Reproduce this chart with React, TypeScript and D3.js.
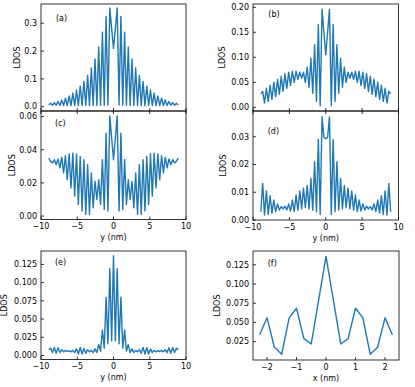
import React from "react";
import * as d3 from "d3";

// ---------- data ----------
// y-direction LDOS profiles, sampled symmetrically about y = 0
const ySpacing = 0.255; // nm between samples
const ldosA = [0.006, 0.012, 0.005, 0.015, 0.005, 0.019, 0.004, 0.024, 0.004, 0.031, 0.004, 0.039, 0.004, 0.049, 0.004, 0.06, 0.004, 0.074, 0.004, 0.091, 0.004, 0.112, 0.004, 0.139, 0.004, 0.172, 0.004, 0.215, 0.005, 0.268, 0.005, 0.325, 0.006, 0.355, 0.28,
  0.21,
  0.28, 0.355, 0.006, 0.325, 0.005, 0.268, 0.005, 0.215, 0.004, 0.172, 0.004, 0.139, 0.004, 0.112, 0.004, 0.091, 0.004, 0.074, 0.004, 0.06, 0.004, 0.049, 0.004, 0.039, 0.004, 0.031, 0.004, 0.024, 0.004, 0.019, 0.005, 0.015, 0.005, 0.012, 0.006];
const ldosB = [0.027, 0.032, 0.009, 0.038, 0.012, 0.044, 0.016, 0.05, 0.021, 0.056, 0.026, 0.062, 0.032, 0.067, 0.038, 0.07, 0.044, 0.072, 0.05, 0.072, 0.056, 0.07, 0.058, 0.07, 0.05, 0.08, 0.04, 0.098, 0.028, 0.125, 0.012, 0.165, 0.003, 0.196, 0.15,
  0.105,
  0.15, 0.196, 0.003, 0.165, 0.012, 0.125, 0.028, 0.098, 0.04, 0.08, 0.05, 0.07, 0.058, 0.07, 0.056, 0.072, 0.05, 0.072, 0.044, 0.07, 0.038, 0.067, 0.032, 0.062, 0.026, 0.056, 0.021, 0.05, 0.016, 0.044, 0.012, 0.038, 0.009, 0.032, 0.027];
const ldosC = [0.035, 0.033, 0.032, 0.034, 0.031, 0.0345, 0.029, 0.0355, 0.026, 0.0365, 0.022, 0.0375, 0.017, 0.038, 0.012, 0.0375, 0.007, 0.036, 0.003, 0.034, 0.001, 0.031, 0.001, 0.026, 0.005, 0.021, 0.01, 0.022, 0.007, 0.034, 0.004, 0.05, 0.003, 0.0604, 0.047,
  0.034,
  0.047, 0.0604, 0.003, 0.05, 0.004, 0.034, 0.007, 0.022, 0.01, 0.021, 0.005, 0.026, 0.001, 0.031, 0.001, 0.034, 0.003, 0.036, 0.007, 0.0375, 0.012, 0.038, 0.017, 0.0375, 0.022, 0.0365, 0.026, 0.0355, 0.029, 0.0345, 0.031, 0.034, 0.032, 0.033, 0.035];
const ldosD = [0.003, 0.0132, 0.0018, 0.0105, 0.002, 0.0088, 0.0025, 0.0072, 0.003, 0.0058, 0.0036, 0.0048, 0.004, 0.005, 0.0036, 0.0058, 0.0032, 0.0072, 0.003, 0.009, 0.0035, 0.0105, 0.004, 0.0115, 0.0045, 0.0125, 0.004, 0.015, 0.0035, 0.021, 0.003, 0.029, 0.002, 0.0372, 0.0298,
  0.0293,
  0.0298, 0.0372, 0.002, 0.029, 0.003, 0.021, 0.0035, 0.015, 0.004, 0.0125, 0.0045, 0.0115, 0.004, 0.0105, 0.0035, 0.009, 0.003, 0.0072, 0.0032, 0.0058, 0.0036, 0.005, 0.004, 0.0048, 0.0036, 0.0058, 0.003, 0.0072, 0.0025, 0.0088, 0.002, 0.0105, 0.0018, 0.0132, 0.003];
const ldosE = [0.008, 0.01, 0.004, 0.011, 0.003, 0.0105, 0.004, 0.008, 0.005, 0.007, 0.0055, 0.0065, 0.005, 0.007, 0.004, 0.009, 0.002, 0.011, 0.002, 0.01, 0.003, 0.008, 0.005, 0.007, 0.004, 0.009, 0.004, 0.015, 0.006, 0.035, 0.01, 0.08, 0.016, 0.119, 0.02,
  0.137,
  0.02, 0.119, 0.016, 0.08, 0.01, 0.035, 0.006, 0.015, 0.004, 0.009, 0.004, 0.007, 0.005, 0.008, 0.003, 0.011, 0.002, 0.011, 0.002, 0.009, 0.004, 0.007, 0.005, 0.0065, 0.0055, 0.007, 0.005, 0.008, 0.004, 0.0105, 0.003, 0.011, 0.004, 0.01, 0.008];
// x-direction profile
const xSpacing = 0.25;
const ldosF = [0.034, 0.056, 0.0177, 0.0086, 0.056, 0.0685, 0.029, 0.022, 0.079, 0.136, 0.079, 0.022, 0.029, 0.0685, 0.056, 0.0086, 0.0177, 0.056, 0.034];

const yTicksNm = [-10, -5, 0, 5, 10];
const xTicksNm = [-2, -1, 0, 1, 2];
const ticksA = [0.0, 0.1, 0.2, 0.3];
const ticksB = [0.0, 0.05, 0.1, 0.15, 0.2];
const ticksC = [0.0, 0.02, 0.04, 0.06];
const ticksD = [0.0, 0.01, 0.02, 0.03];
const ticksE = [0.0, 0.025, 0.05, 0.075, 0.1, 0.125];
const ticksF = [0.025, 0.05, 0.075, 0.1, 0.125];
const panelLabels = ["(a)", "(b)", "(c)", "(d)", "(e)", "(f)"];

const FONT = "DejaVu Sans, sans-serif";
const BLUE = "#1f77b4";

const positions = (vals: number[], step: number) =>
  vals.map((_, i) => (i - (vals.length - 1) / 2) * step);

type PanelProps = {
  left: number; right: number; top: number; bottom: number;
  xDomain: [number, number]; yDomain: [number, number];
  xTicks: number[]; yTicks: number[]; yFmt: string;
  showXLabels: boolean; xLabel?: string; topTicks?: boolean;
  label: string; labelX: number; labelY: number; ylabelX: number;
  values: number[]; step: number;
};

function Panel(p: PanelProps) {
  const x = d3.scaleLinear().domain(p.xDomain).range([p.left, p.right]);
  const y = d3.scaleLinear().domain(p.yDomain).range([p.bottom, p.top]);
  const xs = positions(p.values, p.step);
  const line = d3.line<number>().x((_, i) => x(xs[i])).y((v) => y(v));
  const fy = d3.format(p.yFmt);
  const fx = d3.format("");
  const T = 3;
  return (
    <g>
      <path d={line(p.values) || ""} fill="none" stroke={BLUE} strokeWidth={1.4} strokeLinejoin="round" />
      <rect x={p.left} y={p.top} width={p.right - p.left} height={p.bottom - p.top} fill="none" stroke="#000" strokeWidth={0.8} />
      {p.yTicks.map((t) => (
        <g key={"y" + t}>
          <line x1={p.left} x2={p.left + T} y1={y(t)} y2={y(t)} stroke="#000" strokeWidth={0.8} />
          <text x={p.left - 4} y={y(t)} dy="0.35em" textAnchor="end" fontSize={8} fontFamily={FONT}>{fy(t)}</text>
        </g>
      ))}
      {p.xTicks.map((t) => (
        <g key={"x" + t}>
          <line x1={x(t)} x2={x(t)} y1={p.bottom} y2={p.bottom - T} stroke="#000" strokeWidth={0.8} />
          {p.topTicks && <line x1={x(t)} x2={x(t)} y1={p.top} y2={p.top + T} stroke="#000" strokeWidth={0.8} />}
          {p.showXLabels && (
            <text x={x(t)} y={p.bottom + 9.5} textAnchor="middle" fontSize={8} fontFamily={FONT}>{fx(t)}</text>
          )}
        </g>
      ))}
      {p.xLabel && (
        <text x={(p.left + p.right) / 2} y={p.bottom + 20.5} textAnchor="middle" fontSize={8} fontFamily={FONT}>{p.xLabel}</text>
      )}
      <text transform={`translate(${p.ylabelX},${(p.top + p.bottom) / 2}) rotate(-90)`} textAnchor="middle" fontSize={8} fontFamily={FONT}>LDOS</text>
      <text x={p.labelX} y={p.labelY} fontSize={8} fontFamily={FONT}>{p.label}</text>
    </g>
  );
}

export default function App() {
  const L0 = 41, L1 = 186, R0 = 253, R1 = 398.5;
  const yd: [number, number] = [-10, 10];
  return (
    <svg width={415} height={387} style={{ position: "absolute", left: 0, top: 0, background: "#fff" }}>
      <Panel left={L0} right={L1} top={4} bottom={111} xDomain={yd} yDomain={[-0.0155, 0.3694]}
        xTicks={yTicksNm} yTicks={ticksA} yFmt=".1f" showXLabels={false}
        label={panelLabels[0]} labelX={56} labelY={20.7} ylabelX={19.6} values={ldosA} step={ySpacing} />
      <Panel left={R0} right={R1} top={4} bottom={111} xDomain={yd} yDomain={[-0.0074, 0.2066]}
        xTicks={yTicksNm} yTicks={ticksB} yFmt=".2f" showXLabels={false}
        label={panelLabels[1]} labelX={268.3} labelY={17.3} ylabelX={225} values={ldosB} step={ySpacing} />
      <Panel left={L0} right={L1} top={111} bottom={219.5} xDomain={yd} yDomain={[-0.0021, 0.0634]}
        xTicks={yTicksNm} yTicks={ticksC} yFmt=".2f" showXLabels={true} xLabel="y (nm)" topTicks
        label={panelLabels[2]} labelX={55} labelY={125.7} ylabelX={14.6} values={ldosC} step={ySpacing} />
      <Panel left={R0} right={R1} top={111} bottom={220} xDomain={yd} yDomain={[0, 0.0393]}
        xTicks={yTicksNm} yTicks={ticksD} yFmt=".2f" showXLabels={true} xLabel="y (nm)" topTicks
        label={panelLabels[3]} labelX={267.7} labelY={134} ylabelX={226} values={ldosD} step={ySpacing} />
      <Panel left={L0} right={L1} top={251} bottom={359.5} xDomain={yd} yDomain={[-0.0055, 0.1434]}
        xTicks={yTicksNm} yTicks={ticksE} yFmt=".3f" showXLabels={true} xLabel="y (nm)"
        label={panelLabels[4]} labelX={55} labelY={264.7} ylabelX={6.9} values={ldosE} step={ySpacing} />
      <Panel left={R0} right={399} top={251} bottom={360} xDomain={[-2.475, 2.475]} yDomain={[0.0011, 0.143]}
        xTicks={xTicksNm} yTicks={ticksF} yFmt=".3f" showXLabels={true} xLabel="x (nm)"
        label={panelLabels[5]} labelX={267.7} labelY={265.7} ylabelX={219.6} values={ldosF} step={xSpacing} />
    </svg>
  );
}
